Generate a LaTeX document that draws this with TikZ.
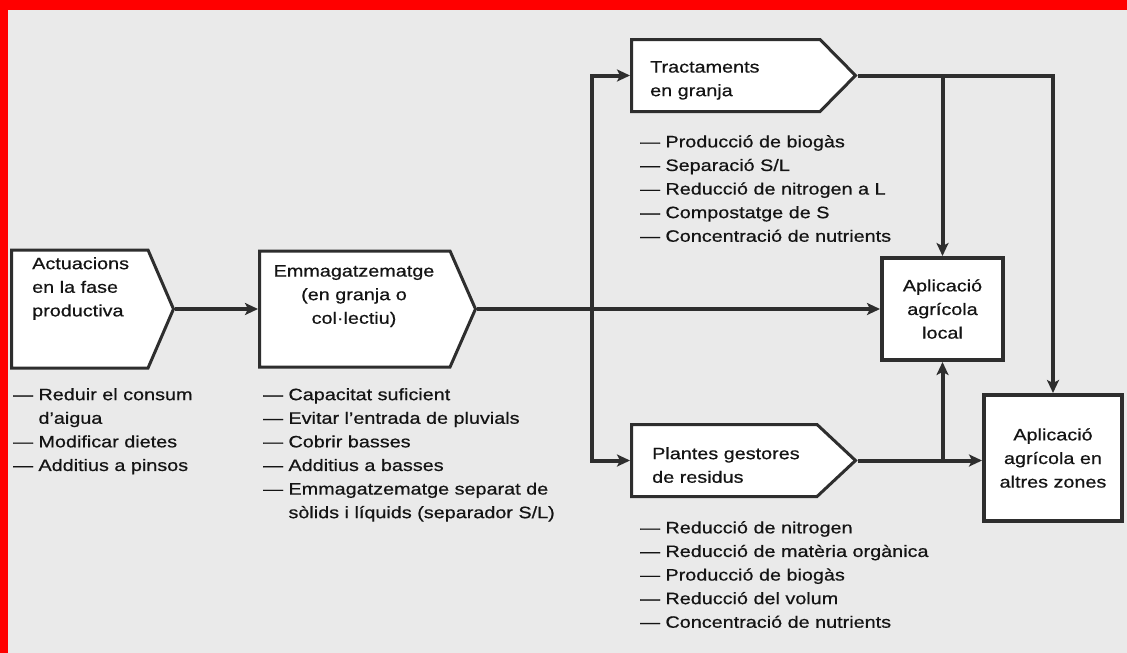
\documentclass[tikz,border=0pt]{standalone}
\usepackage{fontspec}
\setmainfont[Ligatures=TeX,FakeStretch=1.2,FakeBold=0.6]{Liberation Sans}
\usepackage{xcolor}
\usetikzlibrary{shapes.symbols}
\usetikzlibrary{arrows.meta}
\usetikzlibrary{calc}
\definecolor{bggray}{HTML}{EAEAEA}
\definecolor{lnk}{HTML}{2E2E2E}
\definecolor{txt}{HTML}{141414}
\newcommand\lblfont{\fontsize{16.5}{23.6}\selectfont}

\begin{document}
\begin{tikzpicture}[x=1pt,y=-1pt,
  pbox/.style={shape=signal, signal to=east, signal from=nowhere, draw=lnk,
    line width=3pt, fill=white, inner sep=0pt, anchor=west},
  abox/.style={rectangle, draw=lnk, line width=4pt, fill=white, align=center,
    text=txt, font=\lblfont},
  ttl/.style={inner sep=0pt, text=txt, font=\lblfont},
  lst/.style={inner sep=0pt, anchor=north west, align=left, text=txt, font=\lblfont},
  conn/.style={draw=lnk, line width=4pt},
  arr/.style={conn, -{Stealth[length=13pt,width=12pt,inset=3pt]}}]
  % background and frame
  \fill[bggray] (0,0) rectangle (1127,653);
  \fill[red] (0,0) rectangle (1127,10);
  \fill[red] (0,0) rectangle (8,653);
  \useasboundingbox (0,0) rectangle (1127,653);

  % process boxes
  \node[pbox, minimum width=162pt, minimum height=118pt, signal pointer angle=133.3] (act) at (10,309) {};
  \node[pbox, minimum width=216pt, minimum height=116pt, signal pointer angle=132.6] (store) at (258,309) {};
  \node[pbox, minimum width=224pt, minimum height=72pt, signal pointer angle=90.8] (treat) at (630,75.5) {};
  \node[pbox, minimum width=224pt, minimum height=72pt, signal pointer angle=86.2] (plant) at (630,460.5) {};
  \node[abox, minimum width=121pt, minimum height=102pt] (loc) at (942.5,309) {Aplicació\\agrícola\\local};
  \node[abox, minimum width=138pt, minimum height=126pt] (alt) at (1053,458) {Aplicació\\agrícola en\\altres zones};

  % titles
  \node[ttl, anchor=north west, align=left] (acttl) at (32,257) {Actuacions\\en la fase\\productiva};
  \node[ttl, anchor=north, align=center] (storettl) at (354,265) {Emmagatzematge\\(en granja o\\col·lectiu)};
  \node[ttl, anchor=north west, align=left] (treatttl) at (650,61) {Tractaments\\en granja};
  \node[ttl, anchor=north west, align=left] (plantttl) at (652,447) {Plantes gestores\\de residus};

  % lists
  \node[lst] (actlst) at (13,388) {— Reduir el consum\\\phantom{— }d’aigua\\— Modificar dietes\\— Additius a pinsos};
  \node[lst] (storelst) at (263,388) {— Capacitat suficient\\— Evitar l’entrada de pluvials\\— Cobrir basses\\— Additius a basses\\— Emmagatzematge separat de\\\phantom{— }sòlids i líquids (separador S/L)};
  \node[lst] (treatlst) at (640,135) {— Producció de biogàs\\— Separació S/L\\— Reducció de nitrogen a L\\— Compostatge de S\\— Concentració de nutrients};
  \node[lst] (plantlst) at (640,521) {— Reducció de nitrogen\\— Reducció de matèria orgànica\\— Producció de biogàs\\— Reducció del volum\\— Concentració de nutrients};

  % connectors
  \coordinate (split) at (592,309);
  \draw[arr] (act.east) -- (store.west);
  \draw[arr] (store.east) -- (store.east -| loc.west);
  \draw[arr] (split) |- (treat.west);
  \draw[arr] (split) |- (plant.west);
  \draw[arr] (treat.east) -| (alt.north);
  \draw[arr] (treat.east -| loc.north) -- (loc.north);
  \draw[arr] (plant.east) -- (plant.east -| alt.west);
  \draw[arr] (plant.east -| loc.south) -- (loc.south);
\end{tikzpicture}
\end{document}
